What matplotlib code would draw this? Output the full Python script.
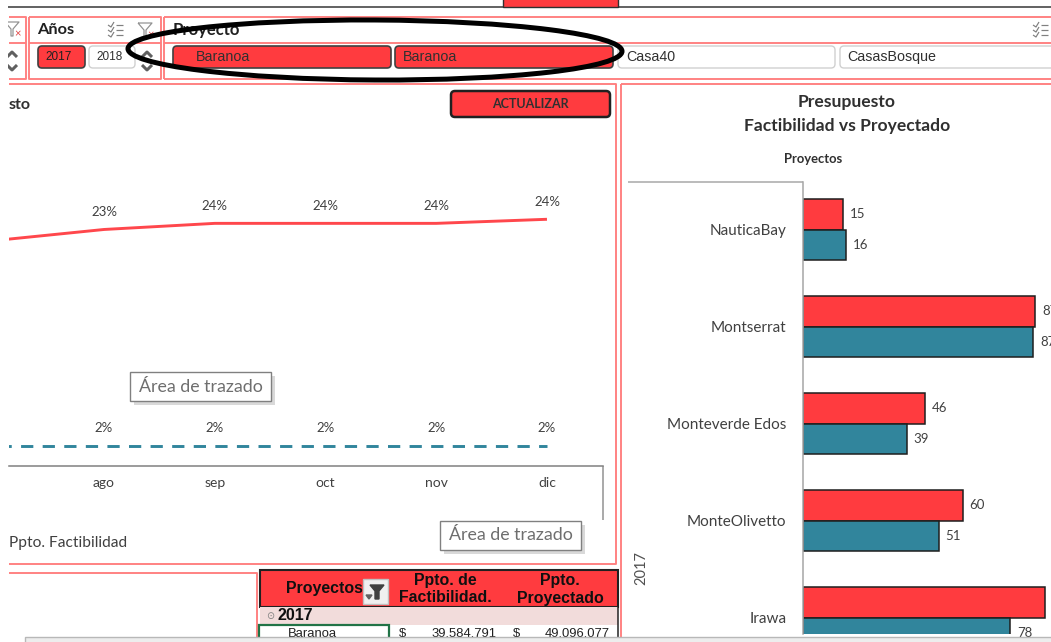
#!/usr/bin/env python3
# Presupuesto dashboard: slicers, monthly percent lines, project bars and pivot table

import matplotlib
matplotlib.use('Agg')
import matplotlib.pyplot as plt
from matplotlib.patches import Rectangle, FancyBboxPatch, Ellipse

plt.rcParams['font.family'] = ['Lato', 'DejaVu Sans']

W, H = 1051, 642
RED = '#FF3B3F'
TEAL = '#31859C'
PINK = '#FF7F7F'
DARK = '#404040'

# bar chart data
proyectos = ['NauticaBay', 'Montserrat', 'Monteverde Edos', 'MonteOlivetto', 'Irawa']
factibilidad = [15, 87.4, 46, 60, 91]
proyectado = [16, 86.6, 39, 51, 78]

# monthly percent lines
meses = ['jul', 'ago', 'sep', 'oct', 'nov', 'dic']
pct_proyectado = [22.1, 23.2, 23.8, 23.8, 23.8, 24.2]
pct_factibilidad = [2.0, 2.0, 2.0, 2.0, 2.0, 2.0]

# slicer buttons
anios = ['2017', '2018']
botones = ['Baranoa', 'Baranoa', 'Casa40', 'CasasBosque']

# pivot table row
fila = ['Baranoa', '39.584.791', '49.096.077']


def px_axes(left, top, right, bottom, **kw):
    # axes placed with pixel edges measured from the top-left corner
    return fig.add_axes([left / W, 1 - bottom / H, (right - left) / W, (bottom - top) / H], **kw)


def line(ax, xs, ys, color=PINK, lw=1.9, **kw):
    ax.plot(xs, ys, color=color, lw=lw * 0.72, solid_capstyle='butt', **kw)


def box(ax, x0, y0, x1, y1, face, edge, lw=1.0, zorder=2):
    ax.add_patch(Rectangle((x0, y0), x1 - x0, y1 - y0, fc=face, ec=edge, lw=lw, zorder=zorder))


def button(ax, x0, y0, x1, y1, face, edge, lw=1.0):
    ax.add_patch(FancyBboxPatch((x0 + 3, y0 + 3), x1 - x0 - 6, y1 - y0 - 6,
                                boxstyle='round,pad=3,rounding_size=4', fc=face, ec=edge, lw=lw, zorder=3))


def list_icon(ax, x, y):
    for dy in (-5, 0, 5):
        line(ax, [x - 7, x - 4, x - 1], [y + dy, y + dy + 2, y + dy - 3], color='#808080', lw=1.2)
        line(ax, [x + 1, x + 8], [y + dy, y + dy], color='#808080', lw=1.2)


def filter_icon(ax, x, y):
    line(ax, [x - 7, x + 7, x + 1, x + 1, x - 1, x - 1, x - 7], [y - 7, y - 7, y, y + 7, y + 7, y, y - 7],
         color='#909090', lw=1.2)
    ax.text(x + 6, y + 5, '×', color='#E04040', fontsize=8, ha='center', va='center')


def chevrons(ax, x, y0, y1):
    line(ax, [x - 5, x, x + 5], [y0 + 3, y0 - 2, y0 + 3], color='#606060', lw=3)
    line(ax, [x - 5, x, x + 5], [y1 - 3, y1 + 2, y1 - 3], color='#606060', lw=3)


def tip(ax, x0, y0, x1, y1):
    box(ax, x0 + 4, y0 + 4, x1 + 4, y1 + 4, '#D9D9D9', 'none', zorder=6)
    box(ax, x0, y0, x1, y1, 'white', '#808080', lw=1.0, zorder=7)
    ax.text((x0 + x1) / 2, (y0 + y1) / 2, 'Área de trazado', color='#6E6E6E', fontsize=12.8,
            ha='center', va='center', zorder=8)


fig = plt.figure(figsize=(W / 100, H / 100), dpi=100, facecolor='white')

# background layer with panels and slicers
bg = px_axes(0, 0, W, H, zorder=0)
bg.set_xlim(0, W)
bg.set_ylim(H, 0)
bg.axis('off')

line(bg, [8, W], [7, 7], color='#404040', lw=1.6)
box(bg, 503, -2, 618, 7, RED, '#303030')

line(bg, [9, 26, 26, 9], [17, 17, 79, 79])
line(bg, [9, 26], [43, 43])
line(bg, [29, 161, 161, 29, 29], [17, 17, 79, 79, 17])
line(bg, [29, 161], [43, 43])
line(bg, [164, W], [17, 17])
line(bg, [164, W], [43, 43])
line(bg, [164, W], [79, 79])
line(bg, [164, 164], [17, 79])

filter_icon(bg, 12, 29)
chevrons(bg, 12, 54, 68)

bg.text(37, 30, 'Años', fontsize=11.8, fontweight='bold', color='#202020', va='center')
list_icon(bg, 115, 30)
filter_icon(bg, 145, 30)
bg.text(173, 30, 'Proyecto', fontsize=12, fontweight='bold', color='#202020', va='center')
list_icon(bg, 1040, 30)

button(bg, 38, 46, 85, 68, RED, '#404040', lw=1.2)
bg.text(59, 57, anios[0], fontsize=8.5, family='Liberation Sans', color='#202020', ha='center', va='center')
button(bg, 89, 46, 135, 68, 'white', '#D0D0D0')
bg.text(110, 57, anios[1], fontsize=8.5, family='Liberation Sans', color='#303030', ha='center', va='center')
chevrons(bg, 147, 54, 68)

button(bg, 173, 46, 391, 68, RED, '#404040', lw=1.2)
button(bg, 395, 46, 613, 68, RED, '#404040', lw=1.2)
button(bg, 618, 46, 835, 68, 'white', '#D0D0D0')
button(bg, 840, 46, 1060, 68, 'white', '#D0D0D0')
for x, nombre in zip([196, 403, 626, 847], botones):
    bg.text(x, 57, nombre, fontsize=10.3, family='Liberation Sans', color='#303030', va='center', zorder=4)

# chart panels
line(bg, [9, 616, 616, 9], [84, 84, 564, 564])
line(bg, [621, 621], [84, H])
line(bg, [621, W], [84, 84])
line(bg, [9, 257, 257], [573, 573, H])

bg.text(9, 105, 'sto', fontsize=11.5, fontweight='bold', color='#303030', va='center')
button(bg, 451, 91, 610, 117, RED, '#202020', lw=1.8)
bg.text(530.5, 104.5, 'ACTUALIZAR', fontsize=9, fontweight='bold', color='#303030', ha='center', va='center', zorder=4)
bg.text(9, 543, 'Ppto. Factibilidad', fontsize=11.2, color=DARK, va='center')

# category axis bracket on the monthly chart
line(bg, [603, 603], [466, 520], color='#909090', lw=1.5)

# headings of the bar chart
bg.text(847, 102, 'Presupuesto', fontsize=12.6, fontweight='bold', color='#303030', ha='center', va='center')
bg.text(847, 126, 'Factibilidad vs Proyectado', fontsize=12.6, fontweight='bold', color='#303030',
        ha='center', va='center')
bg.text(813, 159, 'Proyectos', fontsize=9.4, fontweight='bold', color='#303030', ha='center', va='center')
line(bg, [628, 803], [182, 182], color='#A6A6A6', lw=1.5)
bg.text(641, 568, '2017', fontsize=10.5, color='#505050', rotation=90, ha='center', va='center')

# pivot table
box(bg, 260, 570, 618, 607, RED, '#202020', lw=1.5)
box(bg, 260, 607, 618, 625, '#F2DCDB', 'none')
box(bg, 259, 625, 389, 650, 'white', '#217346', lw=1.6)
line(bg, [618, 618], [607, H], color='#202020', lw=1.5)
th = dict(fontsize=11.4, fontweight='bold', family='Liberation Sans', color='#101010', ha='center', va='center', zorder=4)
bg.text(324, 588.5, 'Proyectos', **th)
bg.text(445, 580, 'Ppto. de', **th)
bg.text(445, 598, 'Factibilidad.', **th)
bg.text(560, 580, 'Ppto.', **th)
bg.text(560, 598, 'Proyectado', **th)
box(bg, 363, 579, 388, 604, '#F0F0F0', '#C0C0C0', zorder=4)
bg.fill([370, 384, 379, 379, 375, 375], [585, 585, 591, 599, 599, 591], color='#404040', zorder=5)
bg.fill([366, 372, 369], [595, 595, 599], color='#606060', zorder=5)
bg.text(270, 616, '⊙', fontsize=7, color='#808080', ha='center', va='center', family='DejaVu Sans')
bg.text(278, 616, '2017', fontsize=11.5, fontweight='bold', family='Liberation Sans', color='#101010', va='center')
td = dict(fontsize=9.4, family='Liberation Sans', color='#202020', va='center', zorder=4)
bg.text(288, 634, fila[0], **td)
bg.text(399, 634, '$', **td)
bg.text(496, 634, fila[1], ha='right', **td)
bg.text(513, 634, '$', **td)
bg.text(610, 634, fila[2], ha='right', **td)

# monthly percent lines
ax = px_axes(9, 100, 603, 466, zorder=1)
ax.patch.set_alpha(0)
x_meses = list(range(len(meses)))
ax.plot(x_meses, pct_proyectado, color='#FF474C', lw=2.1, solid_capstyle='butt')
ax.plot(x_meses, pct_factibilidad, color=TEAL, lw=2.1, linestyle=(0, (4.2, 3.2)), dash_capstyle='butt')
for x, p, f in zip(x_meses, pct_proyectado, pct_factibilidad):
    ax.annotate(f'{p:.0f}%', (x, p), xytext=(0, 12.5), textcoords='offset points', ha='center', va='center',
                fontsize=9.5, color=DARK)
    ax.annotate(f'{f:.0f}%', (x, f), xytext=(0, 13), textcoords='offset points', ha='center', va='center',
                fontsize=9.5, color=DARK)
ax.set_xlim(0.142, 5.506)
ax.set_ylim(0, 35.9)
ax.set_xticks(x_meses[1:], meses[1:])
ax.set_yticks([])
ax.tick_params(axis='x', length=0, pad=8, labelsize=10, labelcolor=DARK)
for side in ('top', 'left', 'right'):
    ax.spines[side].set_visible(False)
ax.spines['bottom'].set_color('#808080')
ax.spines['bottom'].set_linewidth(1.1)

# project bars
bx = px_axes(803, 182, W, 634, zorder=1)
bx.patch.set_alpha(0)
y_proy = list(range(len(proyectos)))
alto = 0.314
y_rojo = [y - alto / 2 for y in y_proy]
y_azul = [y + alto / 2 for y in y_proy]
bx.barh(y_rojo, factibilidad, height=alto, color=RED, edgecolor='#1E1E1E', linewidth=1.1)
bx.barh(y_azul, proyectado, height=alto, color=TEAL, edgecolor='#1E1E1E', linewidth=1.1)
for y, v in zip(y_rojo, factibilidad):
    bx.annotate(f'{v:.0f}', (v, y), xytext=(5, 0), textcoords='offset points', va='center', fontsize=9.5, color=DARK)
for y, v in zip(y_azul, proyectado):
    bx.annotate(f'{v:.0f}', (v, y), xytext=(5, 0), textcoords='offset points', va='center', fontsize=9.5, color=DARK)
bx.set_xlim(0, 248 / 2.66)
bx.set_ylim(4.17, -0.49)
bx.set_xticks([])
bx.set_yticks(y_proy, proyectos)
bx.tick_params(axis='y', length=0, pad=12, labelsize=11, labelcolor=DARK)
for side in ('top', 'right', 'bottom'):
    bx.spines[side].set_visible(False)
bx.spines['left'].set_color('#A6A6A6')
bx.spines['left'].set_linewidth(1.1)

# top layer: tooltips, highlight ellipse, status bar and page margin
top = px_axes(0, 0, W, H, zorder=5)
top.set_xlim(0, W)
top.set_ylim(H, 0)
top.axis('off')
top.patch.set_alpha(0)
tip(top, 130, 372, 271, 401)
tip(top, 440, 521, 581, 550)
top.add_patch(Ellipse((375, 50), 494, 60, angle=0.3, fc='none', ec='black', lw=3.6, zorder=9))
box(top, 25, 637, W + 5, H + 5, '#EDEDED', '#B8B8B8', lw=1.0, zorder=10)
box(top, -2, -2, 8, H + 2, 'white', 'none', zorder=11)

fig.savefig('out.png', dpi=100)
